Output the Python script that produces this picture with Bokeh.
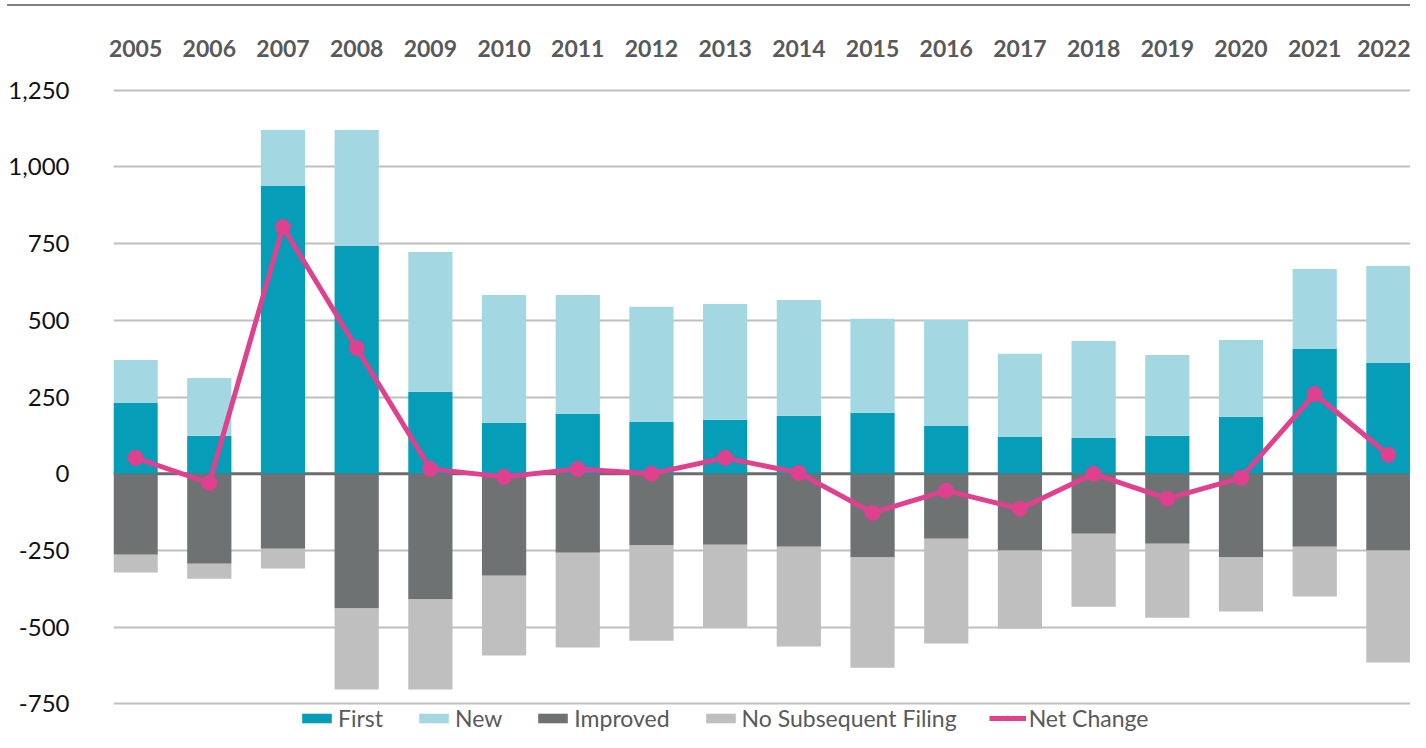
from bokeh.plotting import figure
from bokeh.models import (ColumnDataSource, FixedTicker, NumeralTickFormatter, Span,
                          Legend, LegendItem, Div)
from bokeh.layouts import column
from bokeh.embed import file_html
from bokeh.resources import INLINE

years = ["2005", "2006", "2007", "2008", "2009", "2010", "2011", "2012", "2013",
         "2014", "2015", "2016", "2017", "2018", "2019", "2020", "2021", "2022"]
first = [231, 124, 938, 742, 267, 166, 195, 169, 176, 189, 199, 156, 120, 117, 124, 186, 407, 361]
new = [140, 188, 182, 378, 456, 417, 388, 375, 377, 377, 306, 345, 271, 316, 263, 250, 260, 316]
improved = [-264, -293, -244, -439, -410, -332, -257, -234, -231, -238, -273, -212, -250, -195, -228, -273, -238, -250]
no_subsequent = [-58, -49, -65, -264, -293, -260, -309, -310, -270, -325, -359, -341, -255, -238, -241, -176, -162, -365]
net_change = [52, -30, 804, 410, 16, -10, 16, 0, 52, 3, -127, -55, -114, 0, -81, -13, 260, 62]
y_ticks = [-750, -500, -250, 0, 250, 500, 750, 1000, 1250]

C_FIRST = "#059DB8"
C_NEW = "#A3D7E1"
C_IMP = "#6E7272"
C_NSF = "#BFBFBF"
C_NET = "#E0418E"

src = ColumnDataSource(dict(x=list(range(len(years))), first=first, new=new,
                            improved=improved, nsf=no_subsequent, net=net_change))

p = figure(width=1410, height=726, output_backend="svg", toolbar_location=None,
           x_range=(-0.3, len(years) - 0.7), y_range=(-843, 1262),
           x_axis_location="above", min_border_left=113, min_border_right=0,
           min_border_top=80, min_border_bottom=0)
p.outline_line_color = None
p.xgrid.visible = False
p.ygrid.ticker = FixedTicker(ticks=[t for t in y_ticks if t != 0])
p.ygrid.grid_line_color = "#BFBFBF"
p.ygrid.grid_line_width = 2

zero = Span(location=0, dimension="width", line_color="#6B6B6B", line_width=3, level="underlay")
p.add_layout(zero)

pos = p.vbar_stack(["first", "new"], x="x", width=0.6, color=[C_FIRST, C_NEW],
                   line_color=None, source=src)
neg = p.vbar_stack(["improved", "nsf"], x="x", width=0.6, color=[C_IMP, C_NSF],
                   line_color=None, source=src)
ln = p.line("x", "net", line_color=C_NET, line_width=5, source=src)
sc = p.scatter("x", "net", size=15, fill_color=C_NET, line_color=C_NET, source=src)

# x axis on top
xa = p.xaxis[0]
xa.ticker = FixedTicker(ticks=list(range(len(years))))
xa.major_label_overrides = {i: y for i, y in enumerate(years)}
xa.axis_line_color = None
xa.major_tick_line_color = None
xa.minor_tick_line_color = None
xa.major_label_standoff = 24
xa.major_label_text_font = "Lato"
xa.major_label_text_font_style = "bold"
xa.major_label_text_font_size = "23px"
xa.major_label_text_color = "#595959"

ya = p.yaxis[0]
ya.ticker = FixedTicker(ticks=y_ticks)
ya.formatter = NumeralTickFormatter(format="0,0")
ya.axis_line_color = None
ya.major_tick_line_color = None
ya.minor_tick_line_color = None
ya.major_label_standoff = 38
ya.major_label_text_font = "Lato"
ya.major_label_text_font_size = "24px"
ya.major_label_text_color = "#111111"

legend = Legend(items=[
    LegendItem(label="First", renderers=[pos[0]]),
    LegendItem(label="New", renderers=[pos[1]]),
    LegendItem(label="Improved", renderers=[neg[0]]),
    LegendItem(label="No Subsequent Filing", renderers=[neg[1]]),
    LegendItem(label="Net Change", renderers=[ln, sc]),
], orientation="horizontal", location=(185, 0))
legend.label_text_font = "Lato"
legend.label_text_font_size = "23px"
legend.label_text_color = "#595959"
legend.glyph_width = 37
legend.glyph_height = 12
legend.label_standoff = 3
legend.spacing = 32
legend.padding = 0
legend.margin = 0
legend.border_line_color = None
legend.background_fill_alpha = 0
p.add_layout(legend)

top_line = Div(width=1403, height=2, margin=(4, 0, 0, 7),
               styles={"background-color": "#808080"})

open("out.html", "w").write(file_html(column(top_line, p, spacing=0), INLINE))
